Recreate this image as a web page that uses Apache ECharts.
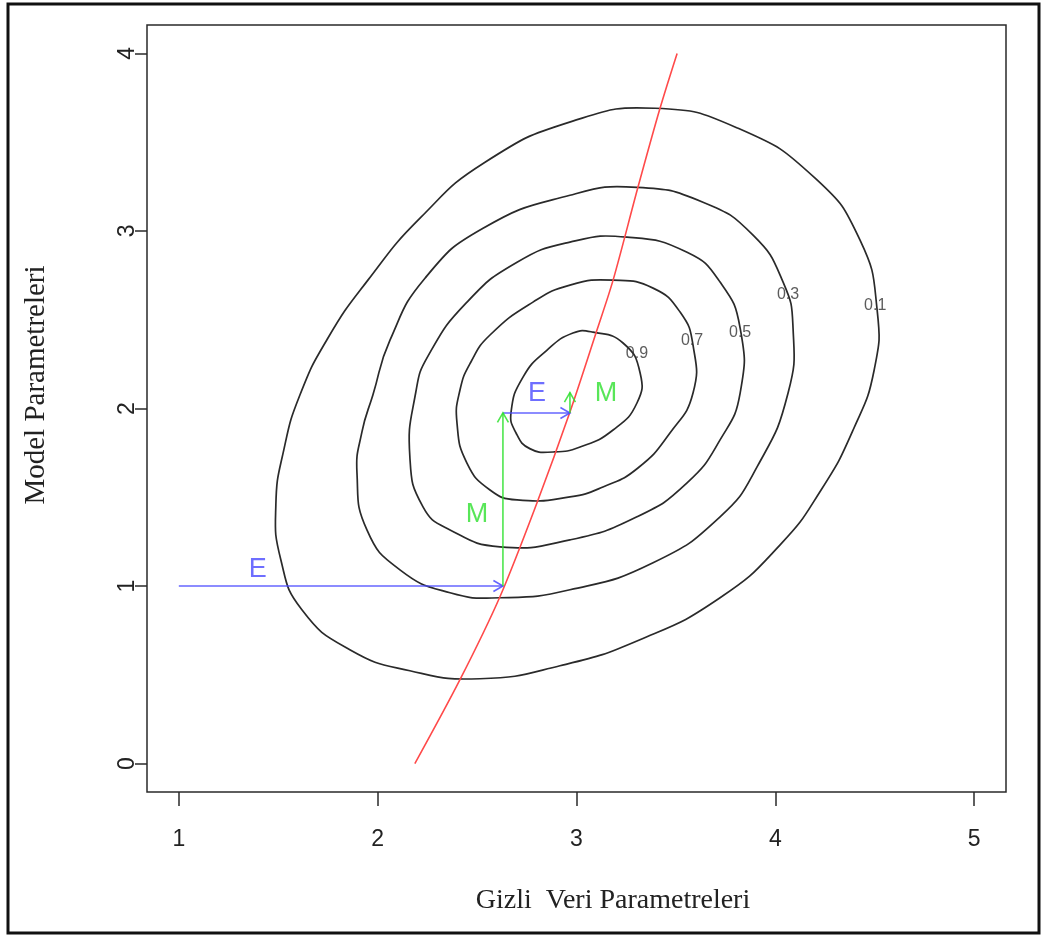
<!DOCTYPE html>
<html>
<head>
<meta charset="utf-8">
<script src="https://cdn.jsdelivr.net/npm/echarts@6/dist/echarts.min.js"></script>
<style>html,body{margin:0;padding:0;background:#fff}#chart{width:1044px;height:937px}</style>
</head>
<body>
<div id="chart"></div>
<script>
// ---- data ----
const xTicks = [1, 2, 3, 4, 5];
const yTicks = [0, 1, 2, 3, 4];
const xTitle = 'Gizli  Veri Parametreleri';
const yTitle = 'Model Parametreleri';

const contourLevels = ['0.1', '0.3', '0.5', '0.7', '0.9'];
const contour01 = [[3.395,3.691],[3.813,3.578],[4.200,3.297],[4.426,2.948],[4.512,2.554],[4.497,2.217],[4.391,1.879],[4.230,1.541],[4.024,1.232],[3.722,0.934],[3.319,0.698],[2.917,0.551],[2.514,0.478],[2.162,0.523],[1.860,0.641],[1.619,0.866],[1.513,1.148],[1.488,1.457],[1.528,1.767],[1.609,2.076],[1.750,2.397],[1.951,2.723],[2.213,3.072],[2.540,3.387],[2.977,3.617]];
const contour03 = [[3.304,3.246],[3.636,3.162],[3.888,2.976],[4.039,2.712],[4.089,2.453],[4.064,2.087],[3.908,1.671],[3.722,1.390],[3.385,1.131],[2.967,0.979],[2.615,0.934],[2.364,0.962],[2.112,1.091],[1.946,1.316],[1.896,1.637],[1.921,1.868],[1.976,2.076],[2.062,2.385],[2.238,2.734],[2.530,3.015],[2.967,3.201]];
const contour05 = [[3.254,2.965],[3.556,2.880],[3.722,2.712],[3.823,2.453],[3.823,2.087],[3.722,1.823],[3.556,1.581],[3.304,1.390],[2.967,1.260],[2.615,1.221],[2.364,1.316],[2.228,1.446],[2.162,1.727],[2.192,2.093],[2.253,2.295],[2.449,2.599],[2.701,2.824],[2.967,2.937]];
const contour07 = [[3.184,2.723],[3.385,2.678],[3.521,2.543],[3.586,2.357],[3.586,2.087],[3.470,1.862],[3.309,1.665],[3.133,1.558],[2.967,1.502],[2.701,1.485],[2.565,1.541],[2.449,1.693],[2.399,1.918],[2.414,2.104],[2.469,2.262],[2.565,2.414],[2.781,2.599],[2.967,2.695]];
const contour09 = [[3.083,2.430],[3.234,2.369],[3.320,2.200],[3.304,2.031],[3.184,1.879],[3.018,1.783],[2.882,1.755],[2.765,1.774],[2.696,1.862],[2.671,1.981],[2.731,2.177],[2.852,2.329],[2.982,2.425]];
const contourLabelPos = [[4.502,2.582],[4.064,2.644],[3.823,2.430],[3.581,2.385],[3.304,2.312]];

const redCurve = [[2.187,0.000],[2.414,0.473],[2.615,0.940],[2.801,1.468],[2.967,1.980],[3.103,2.442],[3.184,2.723],[3.309,3.246],[3.420,3.691],[3.506,4.000]];

const eArrows = [[1.000,1.000,2.630,1.000],[2.630,1.975,2.967,1.975]];
const mArrows = [[2.630,1.000,2.630,1.975],[2.967,1.975,2.967,2.090]];
const eLabels = [[1.397,1.091,'E'],[2.801,2.087,'E']];
const mLabels = [[2.499,1.401,'M'],[3.148,2.087,'M']];

// ---- chart ----
const contours = [contour01, contour03, contour05, contour07, contour09];
const BLUE = '#4a4aff', GREEN = '#2ee02e', RED = '#ff4a4a', INK = '#2a2a2a';

function contourSeries(pts, i) {
  return {
    type: 'custom', name: 'c' + contourLevels[i], data: pts, silent: true, z: 2,
    encode: {x: 0, y: 1},
    renderItem: function (params, api) {
      if (params.dataIndex !== 0) return null;
      const points = pts.map(p => api.coord(p));
      return {type: 'polygon', shape: {points: points, smooth: 0.5},
              style: {fill: null, stroke: INK, lineWidth: 1.7}};
    }
  };
}
function arrowSeries(data, color) {
  return {
    type: 'custom', data: data, silent: true, z: 4,
    encode: {x: [0, 2], y: [1, 3]},
    renderItem: function (params, api) {
      const p0 = api.coord([api.value(0), api.value(1)]);
      const p1 = api.coord([api.value(2), api.value(3)]);
      const ang = Math.atan2(p1[1] - p0[1], p1[0] - p0[0]);
      const L = 11, a = Math.PI / 6;
      const h1 = [p1[0] - L * Math.cos(ang - a), p1[1] - L * Math.sin(ang - a)];
      const h2 = [p1[0] - L * Math.cos(ang + a), p1[1] - L * Math.sin(ang + a)];
      return {type: 'group', children: [
        {type: 'line', shape: {x1: p0[0], y1: p0[1], x2: p1[0], y2: p1[1]}, style: {stroke: color, lineWidth: 1.6, opacity: 0.85}},
        {type: 'polyline', shape: {points: [h1, p1, h2]}, style: {stroke: color, fill: null, lineWidth: 1.6, opacity: 0.85}}
      ]};
    }
  };
}
function textSeries(data, color, size, fam) {
  return {
    type: 'scatter', data: data, symbolSize: 0, silent: true, z: 5,
    label: {show: true, position: 'inside', formatter: p => p.data[2],
            color: color, fontSize: size, fontFamily: fam}
  };
}

const chart = echarts.init(document.getElementById('chart'), null, {renderer: 'canvas'});
chart.setOption({
  animation: false,
  backgroundColor: '#fff',
  grid: {left: 147, right: 38, top: 25, bottom: 145, show: true, borderColor: INK, borderWidth: 1.5, backgroundColor: 'transparent'},
  xAxis: {
    type: 'value', min: 0.84, max: 5.16,
    splitLine: {show: false},
    axisLine: {show: false, onZero: false},
    axisTick: {show: true, inside: false, customValues: xTicks, length: 14, lineStyle: {color: INK, width: 1.5}},
    axisLabel: {customValues: xTicks, fontSize: 23, color: '#222', fontFamily: 'Liberation Sans, Arial', margin: 36}
  },
  yAxis: {
    type: 'value', min: -0.16, max: 4.16,
    splitLine: {show: false},
    axisLine: {show: false, onZero: false},
    axisTick: {show: true, inside: false, customValues: yTicks, length: 12, lineStyle: {color: INK, width: 1.5}},
    axisLabel: {customValues: yTicks, rotate: 90, fontSize: 23, color: '#222', fontFamily: 'Liberation Sans, Arial', margin: 8}
  },
  graphic: [
    {type: 'rect', shape: {x: 8, y: 4, width: 1031, height: 929}, style: {fill: null, stroke: '#111', lineWidth: 3}, z: 100},
    {type: 'text', x: 613, y: 901, style: {text: xTitle, font: '28px "Liberation Serif", "Times New Roman", serif', fill: '#222', textAlign: 'center', textVerticalAlign: 'middle'}},
    {type: 'text', x: 36, y: 385, rotation: Math.PI / 2, style: {text: yTitle, font: '29px "Liberation Serif", "Times New Roman", serif', fill: '#222', textAlign: 'center', textVerticalAlign: 'middle'}}
  ],
  series: [
    ...contours.map(contourSeries),
    {type: 'line', data: redCurve, smooth: 0.3, showSymbol: false, silent: true, z: 3,
     lineStyle: {color: RED, width: 1.6}},
    arrowSeries(eArrows, BLUE),
    arrowSeries(mArrows, GREEN),
    textSeries(contourLevels.map((t, i) => [contourLabelPos[i][0], contourLabelPos[i][1], t]), '#333', 16, 'Liberation Sans, Arial'),
    textSeries(eLabels, BLUE, 27, 'Liberation Sans, Arial'),
    textSeries(mLabels, GREEN, 27, 'Liberation Sans, Arial')
  ]
});
</script>
</body>
</html>
